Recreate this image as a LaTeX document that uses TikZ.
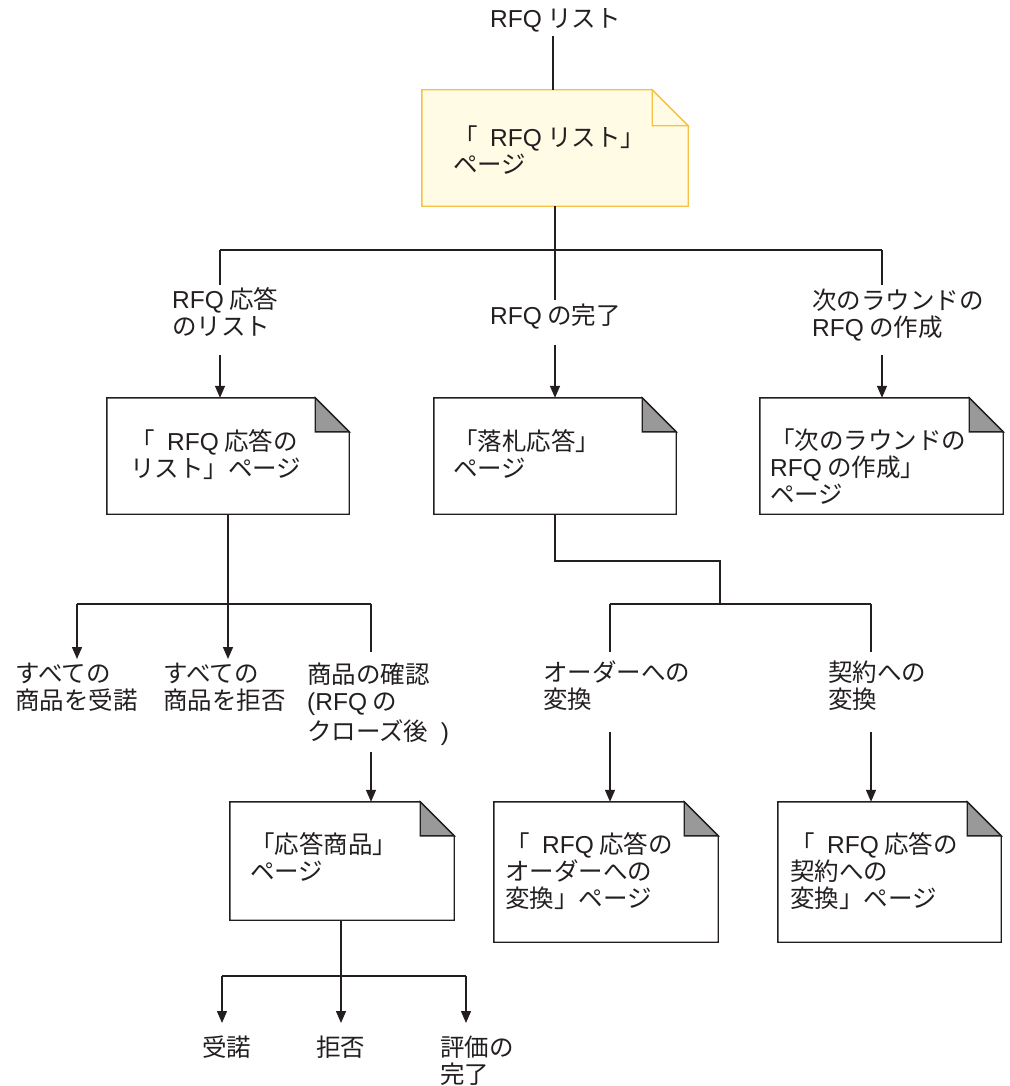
\documentclass[tikz,border=0pt]{standalone}
\usepackage{fontspec}
\newfontfamily\jp{Noto Sans CJK JP}
\newfontfamily\latin{Liberation Sans}
\newcommand\lat[1]{{\latin #1}}
\newcommand\gap{\hspace{7pt}}
\usetikzlibrary{arrows.meta,calc}
\definecolor{ink}{HTML}{231F20}
\definecolor{yfill}{HTML}{FFFBE4}
\definecolor{yline}{HTML}{F6C245}
\definecolor{foldgray}{HTML}{999999}
\tikzset{
  lbl/.style={font=\jp\fontsize{24.5}{27}\selectfont, inner sep=0pt, anchor=north west, align=left, text=ink},
  ln/.style={draw=ink, line width=1.4pt},
  arr/.style={ln, -{Triangle[length=12pt,width=10pt]}},
  pagebox/.style={inner sep=0pt, draw=none},
  whitepage/.style={draw=ink, fill=white, line width=1.4pt, line join=miter},
  whitefold/.style={draw=ink, fill=foldgray, line width=1.4pt, line join=miter},
  yellowpage/.style={draw=yline, fill=yfill, line width=1.4pt, line join=miter},
}
\newcommand\pagenode[8]{%
  \node[pagebox, minimum width={#4-#2}, minimum height={#5-#3}] (#1) at ({(#2+#4)/2},{(#3+#5)/2}) {};
  \draw[#7] (#1.south west) -- (#1.north west) -- ($(#1.north east)+(-#6,0)$) -- ($(#1.north east)+(0,#6)$) -- (#1.south east) -- cycle;
  \draw[#8] ($(#1.north east)+(-#6,0)$) -- ($(#1.north east)+(-#6,#6)$) -- ($(#1.north east)+(0,#6)$) -- cycle;
}
\begin{document}
\begin{tikzpicture}[x=1pt,y=-1pt]
\useasboundingbox (0,0) rectangle (1009,1086);

% top
\node[lbl] (t0) at (490,8) {\lat{RFQ} リスト};
\pagenode{p0}{422}{90}{688}{206}{36}{yellowpage}{yellowpage}
\node[lbl] (p0t) at (453,126) {「 \gap\lat{RFQ} リスト」\\ページ};
\coordinate (c0) at (553,36);
\draw[ln] (c0) -- (c0 |- p0.north);

% first level
\coordinate (jL) at (220,250);
\coordinate (jR) at (882,250);
\coordinate (eL) at (220,285);
\coordinate (eM) at (555,300);
\coordinate (eR) at (882,285);
\draw[ln] (p0.south) -- (p0.south |- jL);
\draw[ln] (jL) -- (jR);
\draw[ln] (jL) -- (eL);
\draw[ln] (p0.south |- jL) -- (eM);
\draw[ln] (jR) -- (eR);

\node[lbl] (l1) at (172,287) {\lat{RFQ} 応答\\のリスト};
\node[lbl] (l2) at (490,304) {\lat{RFQ} の完了};
\node[lbl] (l3) at (812,289) {次のラウンドの\\\lat{RFQ} の作成};

\pagenode{pA}{107}{398}{349}{514}{34}{whitepage}{whitefold}
\pagenode{pB}{434}{398}{676}{514}{34}{whitepage}{whitefold}
\pagenode{pC}{760}{398}{1003}{514}{34}{whitepage}{whitefold}
\node[lbl] (pAt) at (130,429) {「 \gap\lat{RFQ} 応答の\\リスト」ページ};
\node[lbl] (pBt) at (453,429) {「落札応答」\\ページ};
\node[lbl] (pCt) at (770,429) {「次のラウンドの\\\lat{RFQ} の作成」\\ページ};

\coordinate (aL) at (220,355);
\coordinate (aM) at (555,345);
\coordinate (aR) at (882,355);
\draw[arr] (aL) -- (aL |- pA.north);
\draw[arr] (aM) -- (aM |- pB.north);
\draw[arr] (aR) -- (aR |- pC.north);

% branch from pA
\coordinate (kA) at (228,604);
\coordinate (kA1) at (77,604);
\coordinate (kA3) at (371,604);
\coordinate (kA1e) at (77,659);
\coordinate (kA2e) at (228,659);
\coordinate (kA3e) at (371,652);
\draw[ln] (pA.south) -- (kA);
\draw[ln] (kA1) -- (kA3);
\draw[arr] (kA1) -- (kA1e);
\draw[arr] (kA) -- (kA2e);
\draw[ln] (kA3) -- (kA3e);

\node[lbl] (m1) at (15,663) {すべての\\商品を受諾};
\node[lbl] (m2) at (163,663) {すべての\\商品を拒否};
\node[lbl] (m3) at (307,663) {商品の確認\\\lat{(RFQ} の\\[3pt]クローズ後 \gap\lat{)}};

\pagenode{pD}{230}{802}{454}{920}{34}{whitepage}{whitefold}
\node[lbl] (pDt) at (250,832) {「応答商品」\\ページ};
\coordinate (aD) at (371,752);
\draw[arr] (aD) -- (aD |- pD.north);

% branch from pD
\coordinate (kD) at (341,976);
\coordinate (kD1) at (222,976);
\coordinate (kD3) at (466,976);
\coordinate (kD1e) at (222,1023);
\coordinate (kD2e) at (341,1023);
\coordinate (kD3e) at (466,1023);
\draw[ln] (kD |- pD.south) -- (kD);
\draw[ln] (kD1) -- (kD3);
\draw[arr] (kD1) -- (kD1e);
\draw[arr] (kD) -- (kD2e);
\draw[arr] (kD3) -- (kD3e);
\node[lbl] (n1) at (202,1036) {受諾};
\node[lbl] (n2) at (316,1036) {拒否};
\node[lbl] (n3) at (440,1036) {評価の\\完了};

% branch from pB
\coordinate (kB) at (555,561);
\coordinate (kB2) at (720,561);
\coordinate (kB3) at (720,604);
\coordinate (kB4) at (610,604);
\coordinate (kB5) at (871,604);
\coordinate (kB4e) at (610,652);
\coordinate (kB5e) at (871,652);
\draw[ln] (pB.south) -- (kB) -- (kB2) -- (kB3);
\draw[ln] (kB4) -- (kB5);
\draw[ln] (kB4) -- (kB4e);
\draw[ln] (kB5) -- (kB5e);
\node[lbl] (o1) at (543,661) {オーダーへの\\変換};
\node[lbl] (o2) at (828,661) {契約への\\変換};

\pagenode{pE}{494}{802}{718}{942}{34}{whitepage}{whitefold}
\pagenode{pF}{778}{802}{1001}{942}{34}{whitepage}{whitefold}
\node[lbl] (pEt) at (505,832) {「 \gap\lat{RFQ} 応答の\\オーダーへの\\変換」ページ};
\node[lbl] (pFt) at (790,832) {「 \gap\lat{RFQ} 応答の\\契約への\\変換」ページ};
\coordinate (aE) at (610,732);
\coordinate (aF) at (871,732);
\draw[arr] (aE) -- (aE |- pE.north);
\draw[arr] (aF) -- (aF |- pF.north);
\end{tikzpicture}
\end{document}
